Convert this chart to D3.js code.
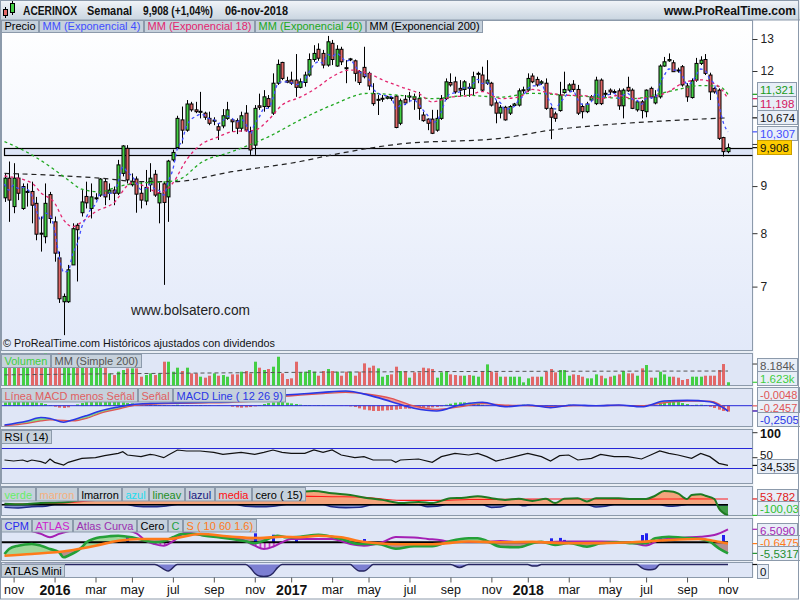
<!DOCTYPE html>
<html><head><meta charset="utf-8">
<script src="https://cdn.jsdelivr.net/npm/d3@7/dist/d3.min.js"></script>
<style>
html,body{margin:0;padding:0;background:#fff;}
svg{display:block;font-family:"Liberation Sans",Arial,Helvetica,sans-serif;}
</style></head><body>
<svg id="chart" width="800" height="600"></svg>
<script>
// ---------------- DATA ----------------
const firstWeek = "2015-10-19", lastWeek = "2018-11-05";
const tickLabels = ["nov","2016","mar","may","jul","sep","nov","2017","mar","may","jul","sep","nov","2018","mar","may","jul","sep","nov"];
const priceTicks = [7,8,9,10,11,12,13];
const priceTickLabels = ["7","8","9","","","12","13"];

const open = [8.74,9.18,8.55,9.18,8.51,8.86,8.88,8.62,8.00,7.93,8.81,8.23,7.52,6.74,6.74,7.39,8.16,8.42,8.77,8.51,
8.72,8.80,9.10,8.84,8.91,8.84,9.29,9.89,9.03,9.16,8.84,8.67,9.03,9.27,8.63,9.05,8.76,9.61,9.91,10.62,
10.35,11.05,10.89,10.84,10.80,10.66,10.59,10.44,10.46,10.66,10.62,10.60,10.40,10.80,10.31,9.97,11.00,10.98,11.20,10.80,
11.64,12.26,11.71,11.73,11.73,11.52,11.66,11.88,12.35,12.67,12.54,12.18,12.86,12.15,12.67,12.10,12.35,12.31,11.98,12.11,
11.93,11.34,11.17,11.19,11.21,11.23,11.27,10.53,11.18,11.25,11.25,11.20,10.75,10.64,10.64,10.35,10.66,11.20,11.66,11.68,
11.49,11.46,11.52,11.49,11.92,11.88,11.64,11.64,11.08,10.80,10.96,10.80,11.01,11.02,11.43,11.44,11.85,11.75,11.64,11.64,
10.93,10.78,10.87,11.37,11.44,11.61,11.46,10.98,10.84,11.16,11.06,11.73,11.33,11.44,11.38,11.42,11.00,11.52,11.44,10.89,
11.11,10.84,11.49,11.08,11.25,12.15,12.31,12.25,12.03,12.13,11.56,11.23,11.73,12.23,12.35,11.88,11.49,11.44,10.16,9.81];
const high = [9.29,9.57,9.53,9.29,9.06,9.06,9.10,8.76,8.34,9.06,8.87,8.34,7.64,6.88,7.39,8.20,8.20,8.91,9.10,9.06,
8.84,9.18,9.18,9.06,8.99,9.61,9.97,9.97,9.29,9.22,9.10,9.37,9.53,9.37,9.10,9.10,9.61,9.86,10.73,10.98,
11.16,11.11,11.11,11.39,10.84,10.84,10.69,10.53,10.91,11.11,10.66,10.66,10.84,11.02,10.44,11.02,11.34,11.44,11.30,11.93,
12.35,12.28,11.83,11.98,12.52,11.78,11.98,12.54,12.80,12.86,12.65,13.10,12.97,12.80,12.75,12.33,12.40,12.35,12.03,12.75,
11.98,11.64,11.30,11.30,11.28,11.25,11.30,11.20,11.30,11.39,11.34,11.39,10.84,10.66,10.89,10.89,11.30,11.78,11.93,11.83,
11.73,11.73,11.64,11.98,11.98,12.13,12.33,11.68,11.16,11.02,11.00,11.02,11.08,11.49,11.54,11.93,11.93,11.83,11.73,11.78,
10.98,10.84,11.68,11.98,11.64,11.73,11.59,11.06,11.11,11.30,11.83,11.78,11.44,11.49,11.46,11.49,11.49,11.83,11.49,11.16,
11.16,11.46,11.54,11.44,12.20,12.43,12.54,12.33,12.10,12.18,11.64,11.78,12.40,12.45,12.52,11.95,11.52,11.49,10.18,10.01];
const low = [8.65,8.23,8.41,8.69,8.48,8.55,8.20,7.86,7.64,7.80,8.20,7.45,6.72,6.20,6.72,7.39,7.09,8.34,8.51,8.30,
8.69,8.76,8.58,8.69,8.58,8.80,9.22,9.06,8.99,8.42,8.51,8.58,8.87,8.76,8.20,7.03,8.23,9.57,9.89,10.01,
10.31,10.84,10.80,10.66,10.62,10.48,10.48,10.10,10.40,10.62,10.31,10.25,10.31,10.31,9.73,9.73,10.89,10.84,10.93,10.75,
11.59,11.73,11.64,11.59,11.25,11.49,11.54,11.83,12.28,12.31,12.08,12.13,12.18,12.13,12.18,11.64,12.30,11.69,11.59,11.78,
11.44,11.00,10.75,11.11,11.18,11.14,10.40,10.48,11.02,11.10,10.89,10.62,10.57,10.35,10.25,10.31,10.62,11.16,11.54,11.34,
11.25,11.30,11.25,11.30,11.64,11.39,11.59,10.98,10.53,10.66,10.60,10.75,10.98,10.98,11.34,11.39,11.64,11.54,11.59,10.89,
10.12,10.57,10.84,11.34,11.39,11.39,10.75,10.66,10.80,11.11,11.02,11.02,11.25,11.30,11.34,10.89,10.66,11.39,10.91,10.84,
10.66,10.69,11.20,11.04,11.20,12.13,12.28,11.97,11.95,11.54,11.11,11.20,11.68,12.18,11.88,11.16,11.34,10.10,9.69,9.77];
const close = [9.18,8.69,9.18,8.84,8.99,8.88,8.58,7.98,7.98,8.62,8.30,7.61,6.79,6.83,7.30,8.09,8.07,8.65,8.63,8.76,
8.74,9.16,8.76,8.91,8.84,9.49,9.95,9.14,9.10,8.82,8.69,8.97,9.18,8.80,8.84,8.64,9.58,9.79,10.66,10.35,
11.05,10.89,10.84,10.85,10.69,10.53,10.61,10.35,10.73,10.89,10.57,10.40,10.73,10.35,9.85,10.93,10.96,11.25,10.98,11.64,
12.20,11.78,11.67,11.64,11.52,11.68,11.88,12.35,12.54,12.39,12.18,12.91,12.35,12.67,12.28,12.08,12.37,11.93,11.66,11.83,
11.56,11.06,11.18,11.21,11.25,11.22,10.42,11.14,11.08,11.27,11.18,10.93,10.60,10.53,10.27,10.66,11.20,11.68,11.59,11.39,
11.44,11.68,11.49,11.83,11.93,11.44,11.73,11.02,10.80,10.96,10.62,10.98,11.05,11.42,11.45,11.78,11.68,11.59,11.68,10.93,
10.69,10.66,11.30,11.46,11.59,11.46,10.80,10.84,11.05,11.25,11.73,11.06,11.35,11.39,11.40,11.00,11.44,11.42,10.93,11.11,
10.87,11.44,11.25,11.25,12.15,12.28,12.35,11.98,12.00,11.59,11.25,11.71,12.23,12.33,11.93,11.39,11.39,10.14,9.81,9.908];

const ema4 = [9.05,8.91,9.02,8.95,8.97,8.93,8.79,8.47,8.27,8.41,8.37,8.06,7.55,7.26,7.28,7.60,7.79,8.13,8.33,8.50,
8.60,8.82,8.80,8.84,8.84,9.10,9.44,9.32,9.23,9.07,8.92,8.94,9.04,8.94,8.90,8.80,9.11,9.38,9.89,10.07,
10.46,10.63,10.71,10.77,10.74,10.65,10.63,10.52,10.60,10.72,10.66,10.56,10.63,10.52,10.25,10.52,10.70,10.92,10.94,11.22,
11.61,11.68,11.68,11.66,11.60,11.63,11.73,11.98,12.20,12.28,12.24,12.51,12.45,12.54,12.44,12.30,12.33,12.17,11.97,11.91,
11.77,11.48,11.36,11.30,11.28,11.26,10.92,11.01,11.04,11.13,11.15,11.06,10.88,10.74,10.55,10.59,10.84,11.18,11.34,11.36,
11.39,11.51,11.50,11.63,11.75,11.63,11.67,11.41,11.17,11.08,10.89,10.93,10.98,11.16,11.28,11.48,11.56,11.57,11.61,11.34,
11.08,10.91,11.07,11.22,11.37,11.41,11.17,11.04,11.04,11.12,11.36,11.24,11.28,11.32,11.35,11.21,11.30,11.35,11.18,11.15,
11.04,11.20,11.22,11.23,11.60,11.87,12.06,12.03,12.02,11.85,11.61,11.65,11.88,12.06,12.01,11.76,11.61,11.02,10.54,10.307];
const ema18Idx = [0,6,8,11,13,15,17,20,24,28,31,34,37,40,43,47,50,55,58,61,65,69,72,76,80,83,87,91,94,98,102,105,109,113,116,120,124,127,131,135,138,142,146,149,153,157,159];
const ema18Val = [9.23,9.07,8.85,8.63,8.27,8.13,8.23,8.44,8.63,9.07,8.99,8.85,9.07,9.61,9.97,10.18,10.31,10.35,10.62,11.02,11.24,11.54,11.83,12.03,11.93,11.74,11.54,11.35,11.11,11.24,11.29,11.40,11.20,11.24,11.46,11.35,11.29,11.29,11.20,11.29,11.20,11.24,11.40,11.64,11.74,11.54,11.198];
const ema40Idx = [0,6,10,14,17,21,25,30,36,39,43,50,58,65,72,80,87,94,102,109,116,124,131,138,146,153,157,159];
const ema40Val = [10.06,9.73,9.45,9.14,8.93,8.87,8.99,9.07,9.10,9.18,9.53,9.81,10.18,10.62,11.02,11.35,11.29,11.20,11.29,11.24,11.35,11.29,11.24,11.20,11.40,11.57,11.55,11.321];
const ema200Idx = [0,10,21,30,37,50,65,72,87,109,120,131,146,159];
const ema200Val = [9.29,9.25,9.18,9.10,9.10,9.33,9.57,9.73,10.00,10.14,10.35,10.48,10.60,10.674];
const supportZone = [9.72, 9.89];

const volume = [9.5,8.8,10.5,7.9,8.3,7.2,9.0,11.5,9.8,12.0,8.6,10.2,13.5,10.8,9.4,10.9,8.7,7.6,7.1,8.2,
6.9,7.8,7.0,4.83,4.23,5.43,6.03,6.63,6.63,6.63,3.63,4.23,4.83,4.23,4.83,9.02,9.02,5.43,6.87,5.67,
6.87,4.83,4.83,3.63,3.28,3.99,4.83,3.99,4.23,3.63,4.47,4.47,5.43,5.67,4.83,9.02,6.87,6.03,6.39,7.23,
10.8,4.83,2.80,3.04,9.02,5.19,5.43,6.03,5.43,3.99,5.67,6.39,5.67,5.43,3.99,5.43,5.43,3.99,5.43,8.42,
6.87,7.59,6.63,3.63,4.23,4.47,7.23,5.67,5.67,3.28,5.19,5.19,6.87,6.63,6.39,3.28,5.19,5.67,4.47,4.23,
3.99,3.99,4.23,3.99,3.63,5.67,8.06,5.43,5.19,3.63,3.63,3.63,3.63,3.63,1.60,3.04,3.63,3.63,3.63,5.43,
6.39,5.19,6.03,6.03,3.99,4.47,4.23,3.63,3.04,3.04,4.47,3.99,3.04,3.63,3.99,4.47,5.67,4.83,4.83,3.99,
6.63,7.83,3.28,3.28,5.43,4.47,3.63,3.63,3.28,2.44,2.80,3.63,3.63,3.63,3.99,3.99,3.99,6.03,8.184,1.623];
const volMaIdx = [0,40,87,159];
const volMaVal = [4.3,4.9,5.4,5.67];

const macdIdx = [0,5,8,10,13,15,18,21,25,28,32,36,40,45,50,55,60,65,70,75,80,85,90,95,100,105,110,115,120,125,130,135,140,145,150,155,159];
const macdVal = [-0.91,-0.72,-0.56,-0.60,-0.78,-0.67,-0.47,-0.25,-0.06,0.05,0.11,0.13,0.14,0.16,0.19,0.27,0.47,0.55,0.63,0.69,0.50,0.19,-0.12,-0.25,0.03,0.16,-0.05,0.03,-0.09,0.03,0.00,0.03,-0.05,0.22,0.25,0.19,-0.2505];
const signalVal = [-0.94,-0.83,-0.72,-0.67,-0.69,-0.72,-0.60,-0.36,-0.16,-0.01,0.06,0.10,0.11,0.13,0.16,0.22,0.41,0.50,0.57,0.63,0.54,0.35,-0.01,-0.17,-0.06,0.10,0.03,0.00,-0.05,0.00,0.00,0.02,-0.01,0.14,0.22,0.22,-0.2457];
const macdHist = [0.10,0.11,0.12,0.12,0.13,0.12,0.11,0.10,0.08,0.05,0.02,
-0.03,-0.06,-0.07,-0.05,
0.0,0.04,0.08,0.11,0.13,0.14,0.14,0.15,0.14,0.13,0.12,0.10,0.08,0.07,
0.05,0.04,0.04,0.03,0.03,0.02,0.02,0.01,0.02,0.03,0.02,0.02,0.01,0.01,0.02,0.01,0.01,0.0,0.01,0.0,0.0,
-0.03,-0.05,-0.06,-0.05,-0.04,-0.02,
0.02,0.05,0.08,0.10,0.12,0.11,0.09,0.07,0.05,0.03,
0.02,0.02,0.01,0.02,0.01,0.01,0.0,0.0,-0.01,-0.01,-0.02,
-0.04,-0.08,-0.12,-0.14,-0.16,-0.16,-0.15,-0.14,-0.13,-0.12,-0.10,
-0.09,-0.09,-0.08,-0.08,-0.07,-0.06,-0.05,-0.04,-0.02,
0.03,0.06,0.09,0.10,0.10,0.09,0.07,0.05,
0.03,0.01,0.0,-0.01,-0.02,-0.02,-0.01,0.0,
0.02,0.03,0.03,0.02,0.01,
-0.01,-0.02,-0.02,-0.01,0.0,
0.02,0.03,0.02,0.01,
0.0,-0.01,0.0,0.02,0.02,
0.01,0.0,0.0,-0.01,0.0,0.01,0.0,-0.01,-0.01,0.0,0.0,0.01,
0.05,0.10,0.13,0.13,0.11,0.08,0.05,
0.02,0.03,0.03,0.02,
-0.03,-0.07,-0.12,-0.16,-0.18];

const rsiIdx = [0,2,4,5,6,8,9,10,11,13,14,17,20,22,25,26,27,30,32,33,35,36,38,40,43,46,48,50,52,55,57,59,61,63,66,68,70,72,74,77,79,81,83,85,86,87,91,94,96,99,102,104,106,108,110,113,115,118,120,122,124,126,129,131,134,137,140,142,144,146,148,151,153,155,157,159];
const rsiVal = [45.4,43.4,45.4,42.1,45.4,42.1,38.7,47.4,40.7,35.4,40.7,48.7,50.1,54.1,58.7,62.1,55.4,52.1,56.7,55.4,50.1,55.4,65.4,63.4,63.4,60.7,56.7,58.7,60.7,56.7,60.7,65.4,60.7,58.7,58.7,65.4,60.7,65.4,55.4,50.1,52.1,45.4,45.4,45.4,40.7,45.4,47.4,40.7,52.1,58.7,55.4,58.7,52.1,43.4,47.4,54.1,58.7,52.1,43.4,54.1,55.4,45.4,48.7,56.7,52.1,52.1,47.4,55.4,63.4,58.7,55.4,48.7,58.7,52.1,38.7,34.535];
const rsiLevels = [70, 30];

const verdeIdx = [0,4,8,12,14,17,20,24,28,31,34,37,40,44,48,52,55,58,62,65,68,72,76,80,83,87,91,94,98,101,104,107,110,113,116,119,121,123,126,128,130,132,135,138,141,143,145,147,148,150,151,153,154,156,157,159];
const verdeVal = [10,5,15,20,25,45,60,75,70,50,45,70,100,95,80,60,50,85,116,122,128,106,90,60,45,15,25,15,60,65,80,60,45,55,35,55,15,55,60,30,60,60,60,53,53,84,128,122,106,53,91,97,84,53,-34,-100.03];
const mediaIdx = [0,10,20,30,40,50,62,65,72,79,87,95,102,110,120,130,140,150,159];
const mediaVal = [5,10,40,60,70,75,86,80,75,70,40,40,48,50,53,53,52,54,53.782];
const lazulIdx = [0,3,6,9,11,27,29,32,35,38,51,53,56,59,62,70,72,75,78,81,91,93,95,97,105,107,109,111,113,114,116,128,130,132,134,144,146,148,150,159];
const lazulVal = [-25,-30,-20,-15,0,0,-15,-20,-15,0,0,-15,-20,-15,0,0,-20,-28,-25,0,0,-18,-15,0,0,-25,-22,0,0,-10,0,0,-22,-15,0,0,-15,-10,0,0];

const cIdx = [0,1,3,6,8,10,12,13,14,17,18,20,21,23,25,28,31,33,35,37,39,42,44,47,50,53,55,57,60,62,65,69,74,78,82,86,90,94,98,102,104,106,109,113,116,118,121,124,128,131,135,138,141,143,146,149,153,155,157,159];
const cVal = [-5.85,-3.35,-1.7,-0.85,-1.7,-3.35,-5.0,-7.5,-6.7,-2.5,0,2.0,2.5,3.0,3.3,2.5,0.8,0,0.5,2.5,4.15,4.15,3.3,2.5,1.65,0.5,-0.5,0.8,3.3,2.5,2.8,3.8,1.65,-0.85,-0.85,-3.2,-2.0,-2.0,0.7,2.0,2.0,0.7,-2.2,-2.5,-0.5,0.3,-1.3,-0.3,-2.2,-0.5,0,-0.5,-0.5,2.0,2.8,2.3,1.65,0.3,-3.0,-5.5317];
const sIdx = [0,6,14,20,25,30,36,43,50,56,61,65,69,74,78,82,87,94,102,109,116,124,131,138,146,153,156,159];
const sVal = [-6.7,-5.85,-4.2,-1.7,0.8,1.65,1.65,4.15,2.8,2.15,2.8,2.5,3.3,2.5,0.5,-0.5,-1.0,-1.0,0.4,0,0.2,-0.5,-0.4,0,1.15,1.65,0.65,-0.6475];
const atlasIdx = [0,5,8,10,12,15,20,25,29,31,33,35,37,40,43,50,53,55,57,59,61,63,66,72,76,79,83,86,90,93,96,98,103,106,109,112,116,124,131,138,141,144,149,153,156,159];
const atlasVal = [6.5,6.0,4.2,2.5,4.2,6.0,7.0,6.5,4.5,0.8,-0.9,-1.7,0.5,5.0,3.6,2.5,0.5,-1.7,-3.35,-2.2,0,1.65,1.65,1.65,-0.85,-1.7,0,2.6,2.4,1.7,1.0,0.3,0.2,0.3,0.6,0.2,0,0.4,0.4,-0.3,-1.6,1.15,2.3,2.8,3.65,6.509];
const cpmIdx = [27,55,59,64,79,120,122,123,140,141,144,158];
const cpmVal = [2.8,4.5,3.8,1.65,1.65,2.0,2.2,1.2,3.65,4.5,2.0,3.65];

const miniIdx = [0,33,36,38,53,54,55,56,57,58,59,60,61,76,77,78,79,80,81,98,100,102,115,116,117,118,139,140,141,142,143,144,159];
const miniVal = [0,0,-52,0,0,-25,-70,-92,-96,-92,-70,-25,0,0,-30,-52,-52,-30,0,0,-24,0,0,-12,-12,0,0,-25,-40,-42,-35,0,0];

// ---------------- SETUP ----------------
const svg = d3.select("#chart");
const defs = svg.append("defs");
const parse = d3.utcParse("%Y-%m-%d");
const weeks = d3.utcMonday.range(parse(firstWeek), d3.utcDay.offset(parse(lastWeek), 1));
const N = close.length;
const x = d3.scaleUtc().domain([weeks[0], weeks[N - 1]]).range([4.5, 728]);
const X = i => x(weeks[i]);
const CX = i => Math.round(X(i)) + 0.5;
const zip = (a, b) => a.map((v, k) => [v, b[k]]);

const L = 1.5, R = 752.5;
const P = { main:[20.5,350.5], vol:[353.5,385.5], macd:[388.5,426.5], rsi:[429.5,483.5],
            verde:[486.5,515.5], cpm:[518.5,560.5], mini:[562.5,577.5] };

const GREEN = "#44cf44", RED = "#e26868";

// gradients
const g1 = defs.append("linearGradient").attr("id","gMain").attr("x1",0).attr("y1",0).attr("x2",0).attr("y2",1);
g1.append("stop").attr("offset",0).attr("stop-color","#ffffff");
g1.append("stop").attr("offset",1).attr("stop-color","#e2e9f9");
const g2 = defs.append("linearGradient").attr("id","gTitle").attr("x1",0).attr("y1",0).attr("x2",0).attr("y2",1);
g2.append("stop").attr("offset",0).attr("stop-color","#f2f5f9");
g2.append("stop").attr("offset",1).attr("stop-color","#c9d5e0");
const hatch = defs.append("pattern").attr("id","hatch").attr("patternUnits","userSpaceOnUse")
  .attr("width",4.55).attr("height",10).attr("x",X(0)-0.5);
hatch.append("rect").attr("width",4.55).attr("height",10).attr("fill","#e9dcf2");
hatch.append("line").attr("x1",1.5).attr("x2",1.5).attr("y1",0).attr("y2",10).attr("stroke","#c21cc8").attr("stroke-width",1.5);

function clipRect(id, x0, y0, x1, y1) {
  defs.append("clipPath").attr("id", id).append("rect")
    .attr("x", x0).attr("y", y0).attr("width", x1 - x0).attr("height", y1 - y0);
  return "url(#" + id + ")";
}
function clipPathD(id, d) {
  defs.append("clipPath").attr("id", id).append("path").attr("d", d);
  return "url(#" + id + ")";
}

// background
svg.append("rect").attr("x",0).attr("y",0).attr("width",800).attr("height",600).attr("fill","#ffffff");
svg.append("rect").attr("x",0).attr("y",20).attr("width",753.5).attr("height",558).attr("fill","#e9eef5");

Object.entries(P).forEach(([k, [y0, y1]]) => {
  svg.append("rect").attr("x", L).attr("y", y0).attr("width", R - L).attr("height", y1 - y0)
    .attr("fill", k === "main" ? "url(#gMain)" : "#dfe6f6").attr("stroke", "#8c9aab");
});

// title bar
svg.append("rect").attr("x",0).attr("y",0).attr("width",800).attr("height",20).attr("fill","url(#gTitle)");
svg.append("line").attr("x1",0).attr("x2",800).attr("y1",20).attr("y2",20).attr("stroke","#8c9aab");
const icon = svg.append("g");
icon.append("line").attr("x1",5.5).attr("x2",5.5).attr("y1",7).attr("y2",18).attr("stroke","#000");
icon.append("rect").attr("x",3.5).attr("y",9.5).attr("width",4).attr("height",6).attr("fill",RED).attr("stroke","#000");
icon.append("line").attr("x1",12.5).attr("x2",12.5).attr("y1",1).attr("y2",15).attr("stroke","#000");
icon.append("rect").attr("x",10.5).attr("y",3.5).attr("width",4).attr("height",9).attr("fill",GREEN).attr("stroke","#000");
const titleParts = [["ACERINOX",23,54],["Semanal",87,45],["9,908 (+1,04%)",143,70],["06-nov-2018",225,63]];
titleParts.forEach(([t, tx, tw]) => {
  svg.append("text").attr("x", tx).attr("y", 15).attr("font-size", 12).attr("font-weight", "bold")
    .attr("fill", "#111").attr("textLength", tw).attr("lengthAdjust", "spacingAndGlyphs").text(t);
});
svg.append("text").attr("x", 796).attr("y", 15).attr("text-anchor", "end").attr("font-size", 12)
  .attr("font-weight", "bold").attr("fill", "#111").text("www.ProRealTime.com");

// ---------------- MAIN PANEL ----------------
const yP = d3.scaleLog().domain([7, 13]).range([286.6, 39]);
const gMain = svg.append("g").attr("clip-path", clipRect("cMain", L, P.main[0], R, P.main[1]));

gMain.append("rect").attr("x", 4.5).attr("y", Math.round(yP(supportZone[1])) + 0.5)
  .attr("width", R + 10).attr("height", Math.round(yP(supportZone[0]) - yP(supportZone[1])))
  .attr("fill", "#dde5f7").attr("stroke", "#000").attr("stroke-width", 1.2);

const idxs = d3.range(N);
gMain.append("g").selectAll("line").data(idxs).join("line")
  .attr("x1", CX).attr("x2", CX).attr("y1", i => yP(high[i])).attr("y2", i => yP(low[i]))
  .attr("stroke", "#000").attr("stroke-width", 1);
gMain.append("g").selectAll("rect").data(idxs).join("rect")
  .attr("x", i => CX(i) - 1.5).attr("width", 3)
  .attr("y", i => yP(Math.max(open[i], close[i])))
  .attr("height", i => Math.max(1, yP(Math.min(open[i], close[i])) - yP(Math.max(open[i], close[i]))))
  .attr("fill", i => close[i] >= open[i] ? GREEN : RED).attr("stroke", "#000").attr("stroke-width", 1);

const lineP = d3.line().x(d => X(d[0])).y(d => yP(d[1]));
const maDefs = [
  [zip(ema200Idx, ema200Val), "#222", "5,4", d3.curveMonotoneX, 1.2],
  [zip(ema40Idx, ema40Val), "#21a821", "3,3", d3.curveMonotoneX, 1.3],
  [zip(ema18Idx, ema18Val), "#e3246e", "3,3", d3.curveMonotoneX, 1.3],
  [zip(idxs, ema4), "#3f4dff", "3,3", d3.curveMonotoneX, 1.3]
];
maDefs.forEach(([pts, col, dash, curve, w]) => {
  gMain.append("path").attr("d", lineP.curve(curve)(pts)).attr("fill", "none")
    .attr("stroke", col).attr("stroke-width", w).attr("stroke-dasharray", dash);
});

gMain.append("text").attr("x", 131).attr("y", 315).attr("font-size", 14).attr("fill", "#222")
  .attr("textLength", 119).attr("lengthAdjust", "spacingAndGlyphs").text("www.bolsatero.com");
gMain.append("text").attr("x", 3).attr("y", 347).attr("font-size", 11.5).attr("fill", "#111")
  .attr("textLength", 272).attr("lengthAdjust", "spacingAndGlyphs")
  .text("\u00A9 ProRealTime.com Hist\u00F3ricos ajustados con dividendos");

// price axis (labels 10 and 11 sit under the value boxes in the reference)
const axP = svg.append("g").attr("transform", `translate(${R},0)`)
  .call(d3.axisRight(yP).tickValues(priceTicks).tickFormat((d, i) => priceTickLabels[i]).tickSize(5).tickPadding(3));
axP.select(".domain").remove();
axP.attr("font-family", null);
axP.selectAll("text").attr("font-size", 12).attr("fill", "#222");
axP.selectAll("text").filter(function () { return this.textContent === ""; }).remove();
axP.selectAll("line").attr("stroke", "#333");

// ---------------- LEGENDS ----------------
function legend(items, x0, y0, h) {
  let xx = x0;
  const g = svg.append("g");
  items.forEach(([t, c]) => {
    const r = g.append("rect").attr("x", xx).attr("y", y0).attr("height", h)
      .attr("fill", "#c6d1dc").attr("stroke", "#8c9aab");
    const tx = g.append("text").attr("x", xx + 3).attr("y", y0 + h - 2.5).attr("font-size", 11).attr("fill", c).text(t);
    const w = tx.node().getComputedTextLength();
    r.attr("width", Math.round(w + 6));
    xx += Math.round(w + 6) + 1;
  });
}
legend([["Precio","#000"],["MM (Exponencial 4)","#3f4dff"],["MM (Exponencial 18)","#e3246e"],
        ["MM (Exponencial 40)","#21a821"],["MM (Exponencial 200)","#000"]], 1.5, 20.5, 12);

// value label helper
function vlabel(cy, ty, text, color, opt) {
  opt = opt || {};
  svg.append("line").attr("x1", R).attr("x2", 757.5).attr("y1", ty).attr("y2", ty).attr("stroke", opt.tick || color).attr("stroke-width", 1.2);
  const r = svg.append("rect").attr("x", 757.5).attr("y", Math.round(cy - 7) + 0.5).attr("height", 14)
    .attr("fill", opt.bg || "#e8eef7").attr("stroke", opt.stroke || "#8c9aab");
  const t = svg.append("text").attr("x", 760).attr("y", Math.round(cy - 7) + 11.5).attr("font-size", opt.fs || 11.5)
    .attr("fill", color).text(text);
  r.attr("width", Math.round(t.node().getComputedTextLength() + 5));
}
vlabel(88.5, yP(11.321), "11,321", "#189a18");
vlabel(102.5, yP(11.198), "11,198", "#d4145e");
vlabel(117, yP(10.674), "10,674", "#111");
vlabel(132.5, yP(10.307), "10,307", "#3f4dff");
vlabel(147, yP(9.908), "9,908", "#111", { bg: "#ffcc00", stroke: "#c9a000", tick: "#111" });

// ---------------- VOLUME ----------------
const yV = d3.scaleLinear().domain([0, 11.5]).range([386.8, 354.8]);
const gVol = svg.append("g").attr("clip-path", clipRect("cVol", L, P.vol[0], R, P.vol[1]));
gVol.selectAll("rect").data(idxs).join("rect")
  .attr("x", i => Math.round(X(i)) - 1).attr("width", 3)
  .attr("y", i => yV(volume[i])).attr("height", i => yV(0) - yV(volume[i]))
  .attr("fill", i => close[i] >= open[i] ? GREEN : RED);
gVol.append("path").attr("d", d3.line().x(d => X(d[0])).y(d => yV(d[1])).curve(d3.curveMonotoneX)(zip(volMaIdx, volMaVal)))
  .attr("fill", "none").attr("stroke", "#555").attr("stroke-dasharray", "4,3");
legend([["Volumen","#3fcf3f"],["MM (Simple 200)","#555"]], 1.5, 354.5, 13);
vlabel(364.5, yV(8.184), "8.184k", "#555", { tick: "#555" });
vlabel(378, yV(1.623), "1.623k", "#3fcf3f");

// ---------------- MACD ----------------
const yM = d3.scaleLinear().domain([-1, 1]).range([405.7 + 21.2, 405.7 - 21.2]);
const yH = d3.scaleLinear().domain([-0.6, 0.6]).range([405.7 + 19.8, 405.7 - 19.8]);
const gM = svg.append("g").attr("clip-path", clipRect("cMacd", L, P.macd[0], R, P.macd[1]));
gM.selectAll("rect").data(idxs).join("rect")
  .attr("x", i => Math.round(X(i)) - 1).attr("width", 3)
  .attr("y", i => Math.min(yH(0), yH(macdHist[i])))
  .attr("height", i => Math.abs(yH(macdHist[i]) - yH(0)))
  .attr("fill", i => macdHist[i] >= 0 ? GREEN : RED);
const macdPts = zip(macdIdx, macdVal), sigPts = zip(macdIdx, signalVal);
const aM = (top) => d3.area().x(d => X(d[0])).y0(top).y1(d => yM(d[1])).curve(d3.curveMonotoneX);
const cBelowM = clipPathD("cBelowMacd", aM(P.macd[1])(macdPts));
const cAboveM = clipPathD("cAboveMacd", aM(P.macd[0])(macdPts));
gM.append("path").attr("d", aM(P.macd[0])(sigPts)).attr("fill", "#7ee08a").attr("clip-path", cBelowM);
gM.append("path").attr("d", aM(P.macd[1])(sigPts)).attr("fill", "#ee9a9a").attr("clip-path", cAboveM);
gM.append("line").attr("x1", L).attr("x2", R).attr("y1", yM(0)).attr("y2", yM(0)).attr("stroke", "#2626d8");
const lM = d3.line().x(d => X(d[0])).y(d => yM(d[1])).curve(d3.curveMonotoneX);
gM.append("path").attr("d", lM(sigPts)).attr("fill", "none").attr("stroke", "#e05555").attr("stroke-width", 1.3);
gM.append("path").attr("d", lM(macdPts)).attr("fill", "none").attr("stroke", "#2a36e6").attr("stroke-width", 1.6);
legend([["L\u00EDnea MACD menos Se\u00F1al","#e06060"],["Se\u00F1al","#e06060"],["MACD Line ( 12 26 9)","#2a36e6"]], 1.5, 388.5, 13.5);
vlabel(394, yH(-0.0048), "-0,0048", "#e05555", { fs: 11 });
vlabel(406.5, yM(-0.2457), "-0,2457", "#e05555", { fs: 11 });
vlabel(419, yM(-0.2505), "-0,2505", "#2a36e6");

// ---------------- RSI ----------------
const yR = d3.scaleLinear().domain([0, 100]).range([482.7, 432.7]);
const gR = svg.append("g").attr("clip-path", clipRect("cRsi", L, P.rsi[0], R, P.rsi[1]));
rsiLevels.forEach(v => gR.append("line").attr("x1", L).attr("x2", R).attr("y1", Math.round(yR(v)) + 0.5)
  .attr("y2", Math.round(yR(v)) + 0.5).attr("stroke", "#2626d8").attr("stroke-width", 1.2));
gR.append("path").attr("d", d3.line().x(d => X(d[0])).y(d => yR(d[1]))(zip(rsiIdx, rsiVal)))
  .attr("fill", "none").attr("stroke", "#111").attr("stroke-width", 1.2);
legend([["RSI ( 14)","#000"]], 1.5, 430.5, 13);
[100, 50].forEach(v => svg.append("line").attr("x1", R).attr("x2", 757.5).attr("y1", yR(v)).attr("y2", yR(v)).attr("stroke", "#333"));
svg.append("text").attr("x", 760).attr("y", yR(100) + 5).attr("font-size", 12.5).attr("font-weight", "bold").attr("fill", "#111").text("100");
svg.append("text").attr("x", 760).attr("y", yR(50) + 1).attr("font-size", 11.5).attr("fill", "#111").text("50");
vlabel(465.5, yR(34.535), "34,535", "#111");

// ---------------- VERDE PANEL ----------------
const yG = d3.scaleLinear().domain([-100, 100]).range([504.7 + 10.7, 504.7 - 10.7]);
const gG = svg.append("g").attr("clip-path", clipRect("cVerde", L, P.verde[0], R, P.verde[1]));
const verdePts = zip(verdeIdx, verdeVal);
const aG = d3.area().x(d => X(d[0])).y0(yG(0)).y1(d => yG(d[1])).curve(d3.curveMonotoneX);
const cPos = clipRect("cVerdePos", L, P.verde[0], R, yG(0));
const cNeg = clipRect("cVerdeNeg", L, yG(0), R, P.verde[1]);
gG.append("path").attr("d", aG(verdePts)).attr("fill", "#f4a47c").attr("clip-path", cPos);
gG.append("path").attr("d", aG(verdePts)).attr("fill", "#3f9a46").attr("clip-path", cNeg);
gG.append("path").attr("d", aG(zip(lazulIdx, lazulVal))).attr("fill", "#8092d4").attr("clip-path", cNeg);
const lG = d3.line().x(d => X(d[0])).y(d => yG(d[1])).curve(d3.curveMonotoneX);
gG.append("path").attr("d", lG(zip(lazulIdx, lazulVal))).attr("fill", "none").attr("stroke", "#1d2a8a").attr("stroke-width", 1.5);
gG.append("path").attr("d", lG(zip(mediaIdx, mediaVal))).attr("fill", "none").attr("stroke", "#ff1a1a").attr("stroke-width", 1.1);
gG.append("line").attr("x1", L).attr("x2", X(N - 1)).attr("y1", yG(0)).attr("y2", yG(0)).attr("stroke", "#000").attr("stroke-width", 1.5);
gG.append("path").attr("d", lG(verdePts)).attr("fill", "none").attr("stroke", "#1f7a22").attr("stroke-width", 2);
legend([["verde","#66ee66"],["marron","#f6b07c"],["lmarron","#000"],["azul","#22dcee"],["lineav","#1f8f1f"],
        ["lazul","#1a1a80"],["media","#ff1010"],["cero ( 15)","#000"]], 1.5, 487.5, 13.5);
vlabel(496, yG(53.782), "53,782", "#e02020");
vlabel(507.5, yG(-100.03), "-100,03", "#2ec02e");

// ---------------- CPM / ATLAS PANEL ----------------
const yK = d3.scaleLinear().domain([-5, 5]).range([542.3 + 10, 542.3 - 10]);
const gK = svg.append("g").attr("clip-path", clipRect("cCpm", L, P.cpm[0], R, P.cpm[1]));
const cPts = zip(cIdx, cVal), sPts = zip(sIdx, sVal), atPts = zip(atlasIdx, atlasVal);
const aK = (base) => d3.area().x(d => X(d[0])).y0(base).y1(d => yK(d[1])).curve(d3.curveMonotoneX);
const cBelowC = clipPathD("cBelowC", aK(P.cpm[1])(cPts));
const cAboveC = clipPathD("cAboveC", aK(P.cpm[0])(cPts));
gK.append("path").attr("d", aK(P.cpm[0])(sPts)).attr("fill", "#9fd79a").attr("clip-path", cBelowC);
gK.append("path").attr("d", aK(P.cpm[1])(sPts)).attr("fill", "#b58d92").attr("clip-path", cAboveC);
const cKneg = clipRect("cCpmNeg", L, yK(0), R, P.cpm[1]);
gK.append("path").attr("d", aK(yK(0))(atPts)).attr("fill", "url(#hatch)").attr("clip-path", cKneg);
gK.selectAll("rect.cpm").data(zip(cpmIdx, cpmVal)).join("rect").attr("class", "cpm")
  .attr("x", d => Math.round(X(d[0])) - 1).attr("width", 3)
  .attr("y", d => yK(d[1])).attr("height", d => yK(0) - yK(d[1])).attr("fill", "#2020ee");
gK.append("line").attr("x1", L).attr("x2", X(N - 1)).attr("y1", yK(0)).attr("y2", yK(0)).attr("stroke", "#000").attr("stroke-width", 2);
const lK = d3.line().x(d => X(d[0])).y(d => yK(d[1])).curve(d3.curveMonotoneX);
gK.append("path").attr("d", lK(atPts)).attr("fill", "none").attr("stroke", "#a41fb4").attr("stroke-width", 2);
gK.append("path").attr("d", lK(cPts)).attr("fill", "none").attr("stroke", "#24a038").attr("stroke-width", 2.6);
gK.append("path").attr("d", lK(sPts)).attr("fill", "none").attr("stroke", "#ff7a1a").attr("stroke-width", 2.6);
legend([["CPM","#2a2aee"],["ATLAS","#cc22cc"],["Atlas Curva","#9b30b0"],["Cero","#000"],["C","#22a040"],["S ( 10 60 1.6)","#ff7a20"]], 1.5, 519.5, 12.5);
vlabel(530, yK(6.509), "6,5090", "#a41fb4");
vlabel(541.5, yK(-0.6475), "-0,6475", "#ff7a1a");
vlabel(553, yK(-5.5317), "-5,5317", "#1f8f2f");

// ---------------- ATLAS MINI ----------------
const yA = d3.scaleLinear().domain([-100, 0]).range([577, 564.5]);
const gA = svg.append("g").attr("clip-path", clipRect("cMini", L, P.mini[0], R, P.mini[1]));
const miniPts = zip(miniIdx, miniVal);
gA.append("path").attr("d", d3.area().x(d => X(d[0])).y0(yA(0)).y1(d => yA(d[1])).curve(d3.curveMonotoneX)(miniPts))
  .attr("fill", "#7c7fd2");
gA.append("path").attr("d", d3.line().x(d => X(d[0])).y(d => yA(d[1])).curve(d3.curveMonotoneX)(miniPts))
  .attr("fill", "none").attr("stroke", "#252560").attr("stroke-width", 1.4);
legend([["ATLAS Mini","#000"]], 1.5, 564.5, 12.5);
vlabel(570.5, yA(0), "0", "#111");

// ---------------- X AXIS ----------------
const tickDates = d3.utcMonth.every(2).range(d3.utcMonth.floor(weeks[0]), weeks[N - 1])
  .map(m => d3.utcMonday.ceil(m)).filter(d => d >= weeks[0] && d <= weeks[N - 1]);
const axX = svg.append("g").attr("transform", "translate(0,577.5)")
  .call(d3.axisBottom(x).tickValues(tickDates).tickFormat((d, i) => tickLabels[i]).tickSize(5).tickPadding(3));
axX.select(".domain").remove();
axX.attr("font-family", null);
axX.selectAll("line").attr("stroke", "#555");
axX.selectAll("text").attr("fill", "#111")
  .attr("font-weight", (d, i) => /^\d+$/.test(tickLabels[i]) ? "bold" : null)
  .attr("font-size", (d, i) => /^\d+$/.test(tickLabels[i]) ? 14 : 12.5);

// outer frame
svg.append("rect").attr("x", 0.5).attr("y", 0.5).attr("width", 798).attr("height", 598.5)
  .attr("fill", "none").attr("stroke", "#8c9aab");
</script>
</body></html>
